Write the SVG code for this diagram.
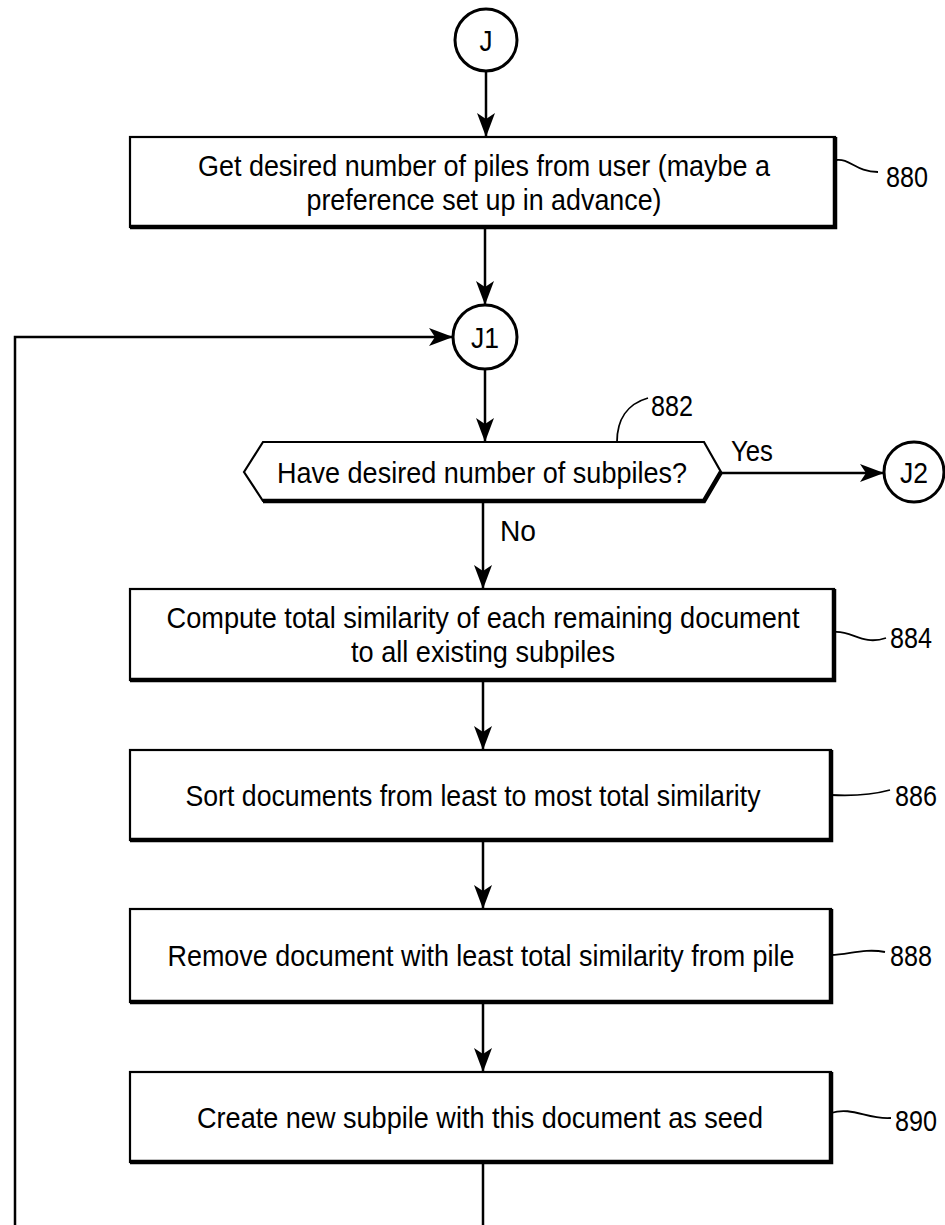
<svg xmlns="http://www.w3.org/2000/svg" width="945" height="1225" viewBox="0 0 945 1225">
<style>
.box{fill:#fff;stroke:#000;stroke-width:2.2}
.shadow{fill:none;stroke:#000;stroke-width:4.5;stroke-linejoin:miter}
.term{fill:#fff;stroke:#000;stroke-width:3}
.t{font-family:"Liberation Sans",Arial,sans-serif;font-size:30px;fill:#000;text-anchor:middle}
.lbl{font-family:"Liberation Sans",Arial,sans-serif;font-size:30px;fill:#000}
.conn{fill:none;stroke:#000;stroke-width:2.5}
.lead{fill:none;stroke:#000;stroke-width:1.8}
</style>
<defs>
<marker id="arr" markerUnits="userSpaceOnUse" markerWidth="26" markerHeight="20" refX="24" refY="9" orient="auto">
<path d="M0,0 L24,9 L0,18 L6,9 z" fill="#000"/>
</marker>
</defs>
<g id="connectors">
<line class="conn" x1="486" y1="71" x2="486" y2="137" marker-end="url(#arr)"/>
<line class="conn" x1="485" y1="227" x2="485" y2="305" marker-end="url(#arr)"/>
<line class="conn" x1="485" y1="369" x2="485" y2="442" marker-end="url(#arr)"/>
<line class="conn" x1="483" y1="501" x2="483" y2="589" marker-end="url(#arr)"/>
<line class="conn" x1="483" y1="680" x2="483" y2="750" marker-end="url(#arr)"/>
<line class="conn" x1="483" y1="840" x2="483" y2="909" marker-end="url(#arr)"/>
<line class="conn" x1="483" y1="1002" x2="483" y2="1072" marker-end="url(#arr)"/>
<line class="conn" x1="483" y1="1162" x2="483" y2="1225"/>
<path class="conn" d="M15,1225 V337 H453" marker-end="url(#arr)"/>
<line class="conn" x1="721" y1="473" x2="884" y2="473" marker-end="url(#arr)"/>
<text class="lbl" x="731" y="461" textLength="42" lengthAdjust="spacingAndGlyphs">Yes</text>
<text class="lbl" x="500" y="541" textLength="36" lengthAdjust="spacingAndGlyphs">No</text>
</g>
<g id="J">
<circle class="term" cx="486" cy="40" r="31"/>
<text class="t" x="486" y="51" textLength="13" lengthAdjust="spacingAndGlyphs">J</text>
</g>
<g id="n880">
<rect class="box" x="130" y="137" width="705" height="90"/>
<path class="shadow" d="M835,137 V227 H130"/>
<text class="t" x="484" y="176" textLength="572" lengthAdjust="spacingAndGlyphs">Get desired number of piles from user (maybe a</text>
<text class="t" x="484" y="210" textLength="355" lengthAdjust="spacingAndGlyphs">preference set up in advance)</text>
<path class="lead" d="M836,160 C850,158 856,172 878,172"/>
<text class="lbl" x="886" y="187" textLength="42" lengthAdjust="spacingAndGlyphs">880</text>
</g>
<g id="J1">
<circle class="term" cx="485" cy="337" r="32"/>
<text class="t" x="485" y="348" textLength="28" lengthAdjust="spacingAndGlyphs">J1</text>
</g>
<g id="n882">
<polygon class="box" points="244,472 263,442 704,442 721,472 704,501 263,501"/>
<path class="shadow" d="M721,472 L704,501 H263"/>
<text class="t" x="482" y="483" textLength="410" lengthAdjust="spacingAndGlyphs">Have desired number of subpiles?</text>
<path class="lead" d="M617,442 C617,420 627,404 648,398"/>
<text class="lbl" x="651" y="416" textLength="42" lengthAdjust="spacingAndGlyphs">882</text>
</g>
<g id="J2">
<circle class="term" cx="914" cy="472" r="30"/>
<text class="t" x="914" y="483" textLength="28" lengthAdjust="spacingAndGlyphs">J2</text>
</g>
<g id="n884">
<rect class="box" x="130" y="589" width="704" height="91"/>
<path class="shadow" d="M834,589 V680 H130"/>
<text class="t" x="483" y="628" textLength="633" lengthAdjust="spacingAndGlyphs">Compute total similarity of each remaining document</text>
<text class="t" x="483" y="662" textLength="264" lengthAdjust="spacingAndGlyphs">to all existing subpiles</text>
<path class="lead" d="M834,632 C852,630 862,646 886,638"/>
<text class="lbl" x="890" y="648" textLength="42" lengthAdjust="spacingAndGlyphs">884</text>
</g>
<g id="n886">
<rect class="box" x="130" y="750" width="701" height="90"/>
<path class="shadow" d="M831,750 V840 H130"/>
<text class="t" x="473" y="806" textLength="575" lengthAdjust="spacingAndGlyphs">Sort documents from least to most total similarity</text>
<path class="lead" d="M831,795 C850,796 868,796 890,790"/>
<text class="lbl" x="895" y="806" textLength="42" lengthAdjust="spacingAndGlyphs">886</text>
</g>
<g id="n888">
<rect class="box" x="130" y="909" width="701" height="93"/>
<path class="shadow" d="M831,909 V1002 H130"/>
<text class="t" x="481" y="966" textLength="627" lengthAdjust="spacingAndGlyphs">Remove document with least total similarity from pile</text>
<path class="lead" d="M831,955 C848,955 864,948 885,952"/>
<text class="lbl" x="890" y="966" textLength="42" lengthAdjust="spacingAndGlyphs">888</text>
</g>
<g id="n890">
<rect class="box" x="130" y="1072" width="701" height="90"/>
<path class="shadow" d="M831,1072 V1162 H130"/>
<text class="t" x="480" y="1128" textLength="566" lengthAdjust="spacingAndGlyphs">Create new subpile with this document as seed</text>
<path class="lead" d="M831,1113 C852,1106 868,1120 891,1118"/>
<text class="lbl" x="895" y="1131" textLength="42" lengthAdjust="spacingAndGlyphs">890</text>
</g>
</svg>
